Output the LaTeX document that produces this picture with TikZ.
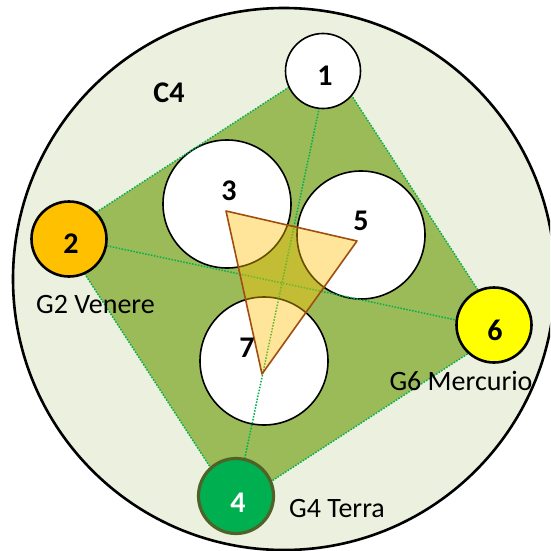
\documentclass[tikz,border=0pt]{standalone}
\usepackage{fontspec}
\setmainfont{Carlito}

\definecolor{paleGreen}{HTML}{EBF1DE}
\definecolor{oliveGreen}{HTML}{9BBB59}
\definecolor{brightGreen}{HTML}{00B050}
\definecolor{amber}{HTML}{FFC000}
\definecolor{lemon}{HTML}{FFFF00}
\definecolor{darkOlive}{HTML}{4F6228}
\definecolor{rust}{HTML}{A04E10}

\tikzset{
  ring/.style={circle, draw=black, line width=1.6pt, fill=white, inner sep=0pt, minimum size=128pt},
  planet/.style={circle, draw=black, line width=2.6pt, inner sep=0pt, minimum size=75pt},
  link/.style={draw=brightGreen, line width=1.5pt, dash pattern=on 1.5pt off 1.5pt},
  num/.style={font=\fontsize{30}{30}\selectfont\bfseries, inner sep=0pt, anchor=base},
  caption/.style={font=\fontsize{28}{30}\selectfont, inner sep=0pt, anchor=base},
}

\begin{document}
\begin{tikzpicture}[x=1pt,y=-1pt]
  \useasboundingbox (0,0) rectangle (550,551);
  \clip (0,0) rectangle (550,551);

  % outer orbit
  \node[circle, draw=black, line width=2.6pt, fill=paleGreen, inner sep=0pt,
        minimum size=542pt] (orbit) at (284,279) {};

  % corners of the square
  \coordinate (v1) at (329.2,61.0);
  \coordinate (v2) at (60.0,235.8);
  \coordinate (v4) at (234.8,505.0);
  \coordinate (v6) at (504.0,330.2);
  \fill[oliveGreen] (v1) -- (v2) -- (v4) -- (v6) -- cycle;

  % inner rings
  \node[ring] (r3) at (227,204) {};
  \node[ring] (r5) at (361,235) {};
  \node[ring] (r7) at (264,361) {};

  % dotted sides and diagonals
  \draw[link] (v1) -- (v2) -- (v4) -- (v6) -- cycle;
  \draw[link] (v1) -- (v4);
  \draw[link] (v2) -- (v6);

  % triangle
  \coordinate (t3) at (226,211);
  \coordinate (t5) at (357,241);
  \coordinate (t7) at (262,374);
  \filldraw[fill=amber, fill opacity=0.4, draw=rust, line width=1.6pt,
            line join=round] (t3) -- (t5) -- (t7) -- cycle;

  % planets at the corners
  \node[planet, fill=white, line width=1.6pt] (p1) at (323,71) {};
  \node[planet, fill=amber] (p2) at (69,239) {};
  \node[planet, fill=lemon] (p6) at (494,325) {};
  \node[planet, fill=brightGreen, draw=darkOlive, line width=3.2pt] (p4) at (236,496) {};

  % numbers
  \node[num] (n1) at (325,85.5) {1};
  \node[num] (n2) at (71,253) {2};
  \node[num] (n3) at (229,200) {3};
  \node[num] (n5) at (361,230) {5};
  \node[num] (n7) at (247,357) {7};
  \node[num, text=white] (n4) at (238,512) {4};
  \node[num] (n6) at (495,340) {6};
  \node[num] (c4) at (169,102) {C4};

  % captions
  \node[caption] (g2) at (95.5,313) {G2 Venere};
  \node[caption] (g6) at (461,390) {G6 Mercurio};
  \node[caption] (g4) at (337,517) {G4 Terra};
\end{tikzpicture}
\end{document}
